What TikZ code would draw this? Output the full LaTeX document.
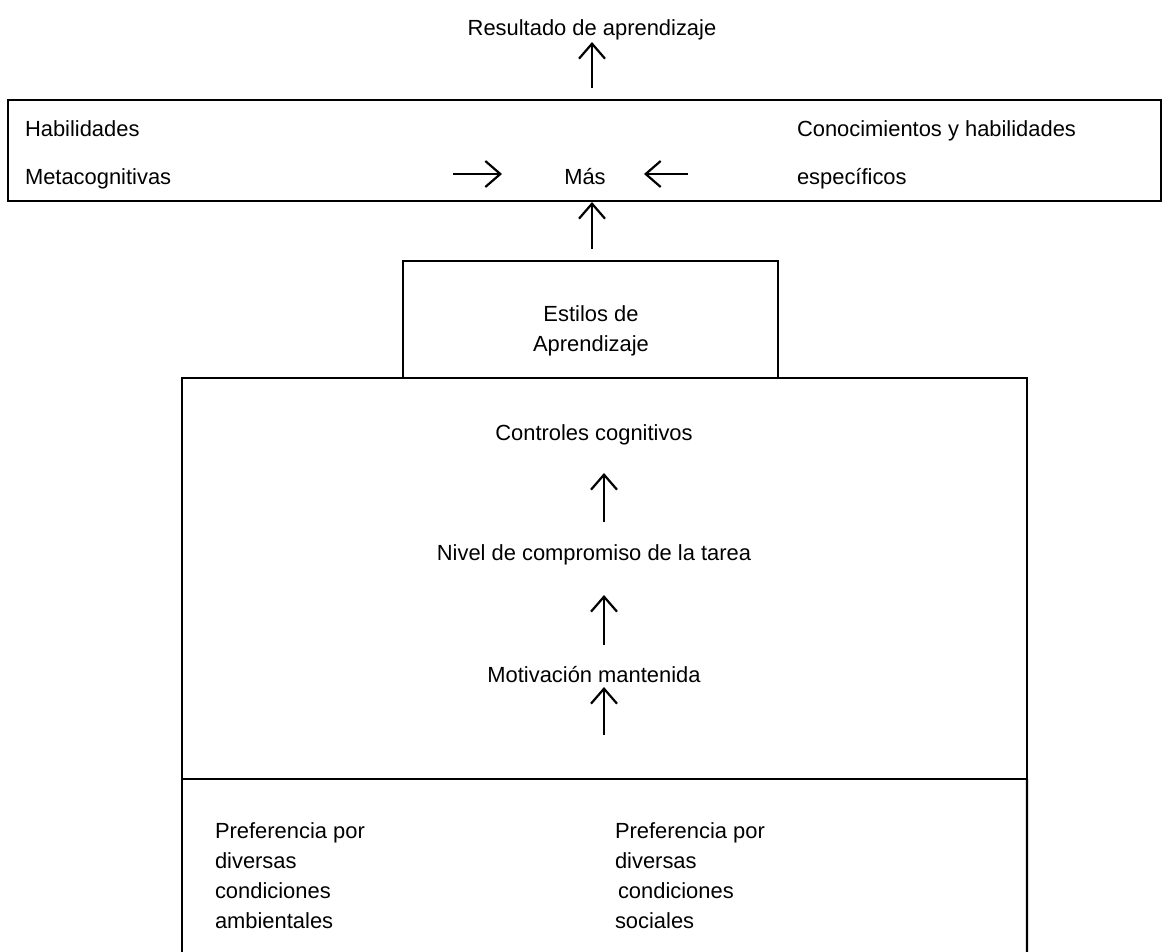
\documentclass[tikz,border=0pt]{standalone}
\usepackage{fontspec}
\setmainfont{Liberation Sans}
\usetikzlibrary{arrows.meta}
\begin{document}
\begin{tikzpicture}[x=1bp,y=-1bp,
  boxline/.style={draw,line width=2.4bp,inner sep=0pt,outer sep=0pt},
  arr/.style={line width=2.2bp,-{Straight Barb[length=15bp,width=26bp,line width=2.2bp]}},
  lbl/.style={inner sep=0pt,outer sep=0pt,font=\fontsize{22}{30}\selectfont},
]
\useasboundingbox (0,0) rectangle (1163,952);
% boxes
\node[boxline,anchor=north west,minimum width=1153bp,minimum height=101bp] (topbox) at (8,100) {};
\node[boxline,anchor=north west,minimum width=375bp,minimum height=117bp] (estilos) at (403,261) {};
\node[boxline,anchor=north west,minimum width=845bp,minimum height=401bp] (bigbox) at (182,378) {};
\coordinate (lowL) at (182,952);
\coordinate (lowR) at (1027,952);
\draw[line width=2.4bp] (bigbox.south west) -- (lowL);
\draw[line width=2.4bp] (bigbox.south east) -- (lowR);
% texts
\node[lbl,anchor=base] (res) at (592,35) {Resultado de aprendizaje};
\node[lbl,anchor=base west] (hab1) at (25,136) {Habilidades};
\node[lbl,anchor=base west] (hab2) at (25,184) {Metacognitivas};
\node[lbl,anchor=base west] (con1) at (797,136) {Conocimientos y habilidades};
\node[lbl,anchor=base west] (con2) at (797,184) {específicos};
\node[lbl,anchor=base] (mas) at (585,184) {Más};
\node[lbl,anchor=base] (est1) at (591,321) {Estilos de};
\node[lbl,anchor=base] (est2) at (591,351) {Aprendizaje};
\node[lbl,anchor=base] (ctrl) at (594,440) {Controles cognitivos};
\node[lbl,anchor=base] (nivel) at (594,560) {Nivel de compromiso de la tarea};
\node[lbl,anchor=base] (motiv) at (594,682) {Motivación mantenida};
\node[lbl,anchor=base west] (pa1) at (215,838) {Preferencia por};
\node[lbl,anchor=base west] (pa2) at (215,868) {diversas};
\node[lbl,anchor=base west] (pa3) at (215,898) {condiciones};
\node[lbl,anchor=base west] (pa4) at (215,928) {ambientales};
\node[lbl,anchor=base west] (ps1) at (615,838) {Preferencia por};
\node[lbl,anchor=base west] (ps2) at (615,868) {diversas};
\node[lbl,anchor=base west] (ps3) at (618,898) {condiciones};
\node[lbl,anchor=base west] (ps4) at (615,928) {sociales};
% arrow end points
\coordinate (a1s) at (592,88);  \coordinate (a1e) at (592,42);
\coordinate (a2s) at (592,249); \coordinate (a2e) at (592,202);
\coordinate (hrs) at (453,174); \coordinate (hre) at (502,174);
\coordinate (hls) at (688,174); \coordinate (hle) at (644,174);
\coordinate (a3s) at (604,522); \coordinate (a3e) at (604,473);
\coordinate (a4s) at (604,645); \coordinate (a4e) at (604,595);
\coordinate (a5s) at (604,735); \coordinate (a5e) at (604,687);
\draw[arr] (a1s) -- (a1e);
\draw[arr] (a2s) -- (a2e);
\draw[arr] (hrs) -- (hre);
\draw[arr] (hls) -- (hle);
\draw[arr] (a3s) -- (a3e);
\draw[arr] (a4s) -- (a4e);
\draw[arr] (a5s) -- (a5e);
\end{tikzpicture}
\end{document}
